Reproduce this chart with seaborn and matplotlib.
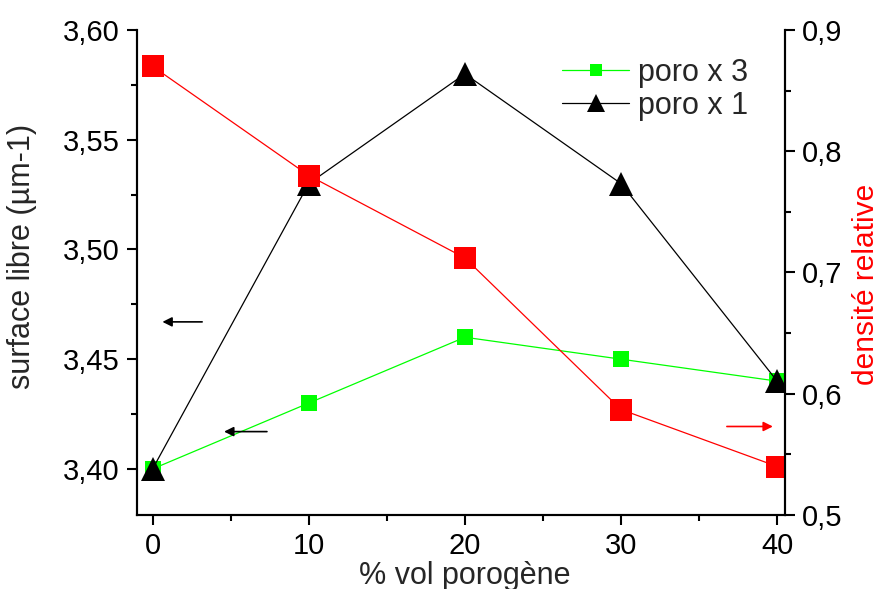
import matplotlib
matplotlib.use("Agg")
import matplotlib.pyplot as plt
import matplotlib.ticker as mticker
import seaborn as sns
import pandas as pd

sns.set_theme(style="ticks")
plt.rcParams['font.family'] = ['Liberation Sans', 'DejaVu Sans']

x_vals = [0, 10, 20, 30, 40]
poro_x3 = [3.40, 3.43, 3.46, 3.45, 3.44]
poro_x1 = [3.40, 3.53, 3.58, 3.53, 3.44]
densite = [0.870, 0.780, 0.712, 0.587, 0.540]

df3 = pd.DataFrame({"x": x_vals, "y": poro_x3})
df1 = pd.DataFrame({"x": x_vals, "y": poro_x1})
dfd = pd.DataFrame({"x": x_vals, "y": densite})

fig = plt.figure(figsize=(8.85, 5.89), dpi=100)
ax = fig.add_axes([137 / 885, 1 - 515 / 589, 648 / 885, 485 / 589])

sns.lineplot(data=df3, x="x", y="y", ax=ax, color="#00ff00", lw=0.9,
             marker="s", markersize=11.5, markeredgewidth=0, label="poro x 3")
sns.lineplot(data=df1, x="x", y="y", ax=ax, color="black", lw=0.9,
             marker="^", markersize=17, markeredgewidth=0, label="poro x 1")

ax2 = ax.twinx()
sns.lineplot(data=dfd, x="x", y="y", ax=ax2, color="red", lw=0.9,
             marker="s", markersize=16, markeredgewidth=0, legend=False)

ax.set_xlim(-1.0, 40.5)
ax.set_ylim(3.379, 3.60)
ax2.set_ylim(0.5, 0.9)

def comma(fmt):
    return mticker.FuncFormatter(lambda v, p: (fmt % v).replace('.', ','))

ax.xaxis.set_major_locator(mticker.MultipleLocator(10))
ax.xaxis.set_minor_locator(mticker.MultipleLocator(5))
ax.yaxis.set_major_locator(mticker.MultipleLocator(0.05))
ax.yaxis.set_minor_locator(mticker.MultipleLocator(0.025))
ax.yaxis.set_major_formatter(comma('%.2f'))
ax2.yaxis.set_major_locator(mticker.MultipleLocator(0.1))
ax2.yaxis.set_minor_locator(mticker.MultipleLocator(0.05))
ax2.yaxis.set_major_formatter(comma('%.1f'))

for a in (ax, ax2):
    a.spines['top'].set_visible(False)
    for s in a.spines.values():
        s.set_linewidth(1.5)
        s.set_color('black')
    a.tick_params(which='major', direction='out', length=7.5, width=1.5,
                  labelsize=21, colors='black', pad=5)
    a.tick_params(which='minor', direction='out', length=4.5, width=1.5, colors='black')

ax.set_xlabel("% vol porogène", fontsize=22)
ax.xaxis.set_label_coords(0.506, -0.094)
ax.set_ylabel("surface libre (µm-1)", fontsize=22)
ax.yaxis.set_label_coords(-0.154, 0.534)
ax2.set_ylabel("densité relative", fontsize=21.5, color='red')
ax2.yaxis.set_label_coords(1.104, 0.476)

ax.annotate("", xy=(0.45, 3.467), xytext=(3.35, 3.467),
            arrowprops=dict(arrowstyle="-|>", color="black", lw=1.2, mutation_scale=14))
ax.annotate("", xy=(4.4, 3.417), xytext=(7.5, 3.417),
            arrowprops=dict(arrowstyle="-|>", color="black", lw=1.2, mutation_scale=14))
ax2.annotate("", xy=(39.9, 0.573), xytext=(36.6, 0.573),
             arrowprops=dict(arrowstyle="-|>", color="red", lw=1.2, mutation_scale=14))

leg = ax.legend(loc='upper left', bbox_to_anchor=(0.656, 0.943), frameon=False,
                fontsize=22, handlelength=2.2, handletextpad=0.3, labelspacing=0.1,
                markerscale=0.75, borderaxespad=0, borderpad=0)

fig.savefig("out.png", dpi=100)
